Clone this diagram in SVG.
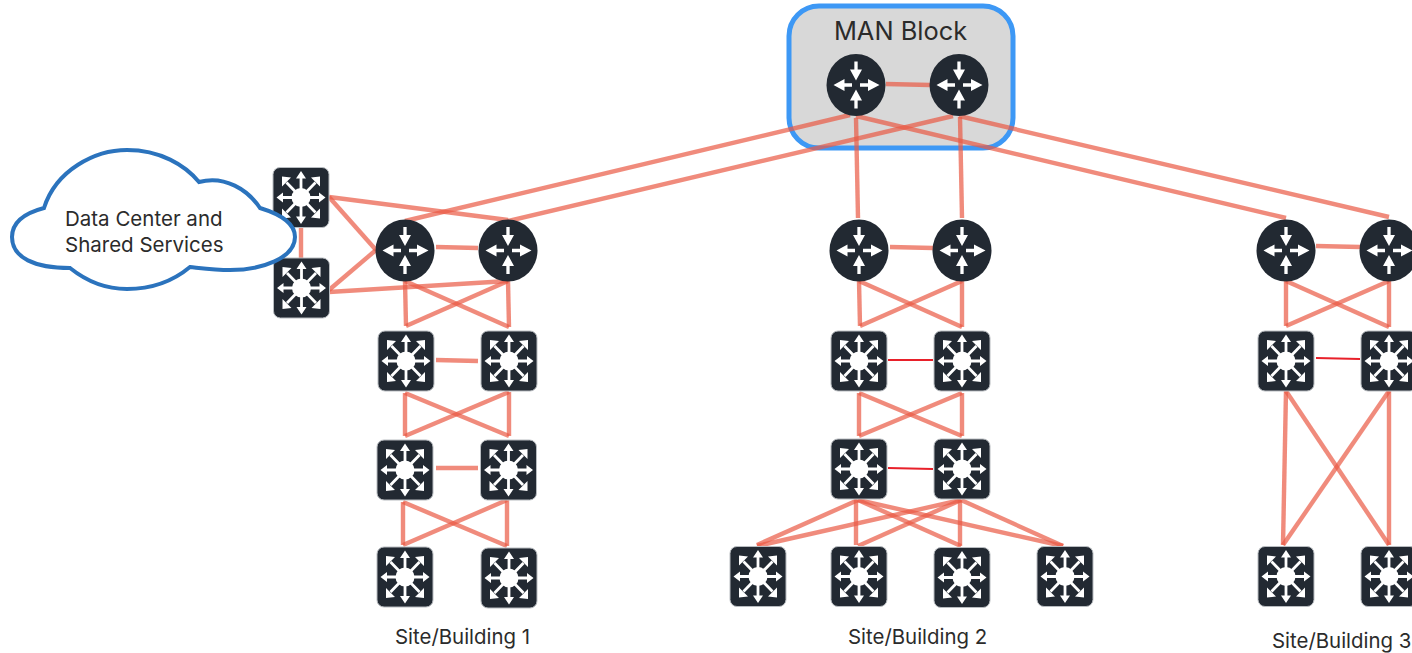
<svg xmlns="http://www.w3.org/2000/svg" xmlns:xlink="http://www.w3.org/1999/xlink" width="1412" height="653" viewBox="0 0 1412 653">
<style>
text{font-family:Inter,"Liberation Sans",Arial,sans-serif;fill:#2b2b2b}
.lbl{font-size:20.4px}
.dc{font-size:20.5px}
.man{font-size:25.4px}
.body{fill:#222932}
.sw-edge{stroke:#b8bcc0;stroke-width:1}
.ar{stroke:#fff;stroke-width:2.8;fill:none}
.ar.r{stroke-width:3.3}
.hd{fill:#fff}
#connectors line{stroke:#ea5a45;stroke-opacity:.7;stroke-width:4.4}
#connectors line.thin{stroke:#e8202a;stroke-opacity:1;stroke-width:2}
</style>
<defs>
<g id="router">
<ellipse class="body" cx="0" cy="0" rx="29.500" ry="31"/>
<path class="ar r" d="M0,-23.500V-14M0,23.500V14M-14,0H-4M14,0H4"/>
<path class="hd" d="M-6,-15.500H6L0,-4.500ZM-6,15.500H6L0,4.500ZM-11.500,-6V6L-22.500,0ZM12,-6V6L23.500,0Z"/>
</g>
<g id="switch">
<rect class="body sw-edge" x="-28" y="-30" width="56" height="60" rx="7"/>
<circle cx="0" cy="0" r="9.500" fill="#fff"/>
<path class="ar" d="M0,0V-21M0,0V21M0,0H-20M0,0H20M0,0L-14.500,-15M0,0L14.500,-15M0,0L-14.500,15M0,0L14.500,15"/>
<path class="hd" d="M-5,-19H5L0,-26.500ZM-5,19H5L0,26.500ZM-18,-5V5L-24.500,0ZM18,-5V5L24.500,0Z"/>
<path class="hd" d="M-19,-21L-19,-11L-10,-20ZM19,-21L19,-11L10,-20ZM-19,21L-19,11L-10,20ZM19,21L19,11L10,20Z"/>
</g>
</defs>
<rect width="1412" height="653" fill="#fff"/>
<g id="man-block">
<rect x="789" y="6" width="224" height="142" rx="30" fill="#d8d8d8" stroke="#3d98f5" stroke-width="5"/>
<text class="man" x="900.500" y="40" text-anchor="middle">MAN Block</text>
</g>
<g id="connectors">
<line x1="886" y1="84" x2="930" y2="85"/>
<line x1="850" y1="115" x2="405" y2="221"/>
<line x1="953" y1="116" x2="508" y2="221"/>
<line x1="856" y1="118" x2="858" y2="218"/>
<line x1="960" y1="117" x2="962" y2="218"/>
<line x1="856" y1="116" x2="1286" y2="218"/>
<line x1="959" y1="116" x2="1389" y2="217"/>
<line x1="301" y1="227" x2="301" y2="258"/>
<line x1="329" y1="197" x2="376" y2="250"/>
<line x1="329" y1="290" x2="376" y2="250"/>
<line x1="329" y1="197" x2="508" y2="220"/>
<line x1="329" y1="292" x2="508" y2="281"/>
<line x1="436" y1="247" x2="478" y2="248"/>
<line x1="405" y1="281" x2="406" y2="326"/>
<line x1="405" y1="281" x2="509" y2="327"/>
<line x1="508" y1="281" x2="406" y2="326"/>
<line x1="508" y1="281" x2="509" y2="327"/>
<line x1="436" y1="360" x2="478" y2="361"/>
<line x1="405" y1="393" x2="405" y2="436"/>
<line x1="405" y1="393" x2="509" y2="436"/>
<line x1="509" y1="392" x2="405" y2="436"/>
<line x1="509" y1="392" x2="509" y2="436"/>
<line x1="436" y1="468" x2="478" y2="468"/>
<line x1="403" y1="502" x2="403" y2="545"/>
<line x1="403" y1="502" x2="507" y2="546"/>
<line x1="507" y1="500" x2="403" y2="545"/>
<line x1="507" y1="500" x2="507" y2="546"/>
<line x1="890" y1="247" x2="933" y2="248"/>
<line x1="859" y1="281" x2="860" y2="326"/>
<line x1="859" y1="281" x2="962" y2="327"/>
<line x1="962" y1="281" x2="860" y2="326"/>
<line x1="962" y1="281" x2="962" y2="327"/>
<line class="thin" x1="888" y1="360" x2="933" y2="360"/>
<line x1="859" y1="393" x2="859" y2="436"/>
<line x1="859" y1="393" x2="962" y2="436"/>
<line x1="962" y1="393" x2="859" y2="436"/>
<line x1="962" y1="393" x2="962" y2="436"/>
<line class="thin" x1="888" y1="468" x2="933" y2="469"/>
<line x1="858" y1="500" x2="757" y2="545"/>
<line x1="856" y1="500" x2="856" y2="545"/>
<line x1="858" y1="500" x2="961" y2="546"/>
<line x1="858" y1="500" x2="1063" y2="546"/>
<line x1="961" y1="500" x2="757" y2="546"/>
<line x1="961" y1="500" x2="858" y2="546"/>
<line x1="960" y1="500" x2="960" y2="546"/>
<line x1="961" y1="500" x2="1063" y2="546"/>
<line x1="1316" y1="246" x2="1360" y2="247"/>
<line x1="1286" y1="281" x2="1286" y2="326"/>
<line x1="1286" y1="281" x2="1389" y2="327"/>
<line x1="1389" y1="281" x2="1286" y2="326"/>
<line x1="1389" y1="281" x2="1389" y2="327"/>
<line class="thin" x1="1316" y1="358" x2="1360" y2="359"/>
<line x1="1286" y1="391" x2="1283" y2="545"/>
<line x1="1286" y1="391" x2="1389" y2="545"/>
<line x1="1389" y1="391" x2="1283" y2="545"/>
<line x1="1389" y1="391" x2="1389" y2="545"/>
</g>
<g id="man-r1"><use href="#router" x="856" y="85"/></g>
<g id="man-r2"><use href="#router" x="959" y="85"/></g>
<g id="dc-s1"><use href="#switch" x="301" y="197.500"/></g>
<g id="dc-s2"><use href="#switch" x="301.500" y="288"/></g>
<g id="cloud">
<path d="M44,208C56,170 95,150 127,150C160,150 185,165 199,182C225,175 248,190 260,208C283,215 295,225 295,237C295,258 262,270 230,270C215,270 200,268 190,267C172,282 150,289 127,289C105,289 85,280 70,268C35,268 12,258 12,237C12,222 25,213 44,208Z" fill="#fff" stroke="#2b73bd" stroke-width="4"/>
<text class="dc" x="65" y="226">Data Center and</text>
<text class="dc" x="65" y="252">Shared Services</text>
</g>
<g id="s1-r1"><use href="#router" x="405" y="250.500"/></g>
<g id="s1-r2"><use href="#router" x="508" y="250.500"/></g>
<g id="s1-d1"><use href="#switch" x="406" y="361"/></g>
<g id="s1-d2"><use href="#switch" x="509" y="361"/></g>
<g id="s1-a1"><use href="#switch" x="405" y="470"/></g>
<g id="s1-a2"><use href="#switch" x="508.500" y="470"/></g>
<g id="s1-e1"><use href="#switch" x="405" y="577"/></g>
<g id="s1-e2"><use href="#switch" x="509" y="578"/></g>
<g id="s2-r1"><use href="#router" x="859" y="250.500"/></g>
<g id="s2-r2"><use href="#router" x="962" y="250.500"/></g>
<g id="s2-d1"><use href="#switch" x="859" y="361"/></g>
<g id="s2-d2"><use href="#switch" x="962" y="361"/></g>
<g id="s2-a1"><use href="#switch" x="859" y="469"/></g>
<g id="s2-a2"><use href="#switch" x="962" y="469"/></g>
<g id="s2-e1"><use href="#switch" x="758" y="576.500"/></g>
<g id="s2-e2"><use href="#switch" x="859" y="576.500"/></g>
<g id="s2-e3"><use href="#switch" x="962" y="577.500"/></g>
<g id="s2-e4"><use href="#switch" x="1065" y="576.500"/></g>
<g id="s3-r1"><use href="#router" x="1286" y="250.500"/></g>
<g id="s3-r2"><use href="#router" x="1389" y="250.500"/></g>
<g id="s3-d1"><use href="#switch" x="1286" y="361"/></g>
<g id="s3-d2"><use href="#switch" x="1389" y="361"/></g>
<g id="s3-e1"><use href="#switch" x="1286" y="576.500"/></g>
<g id="s3-e2"><use href="#switch" x="1389" y="576.500"/></g>
<g id="labels">
<text class="lbl" x="395" y="644">Site/Building 1</text>
<text class="lbl" x="848" y="644">Site/Building 2</text>
<text class="lbl" x="1272" y="648">Site/Building 3</text>
</g>
</svg>
